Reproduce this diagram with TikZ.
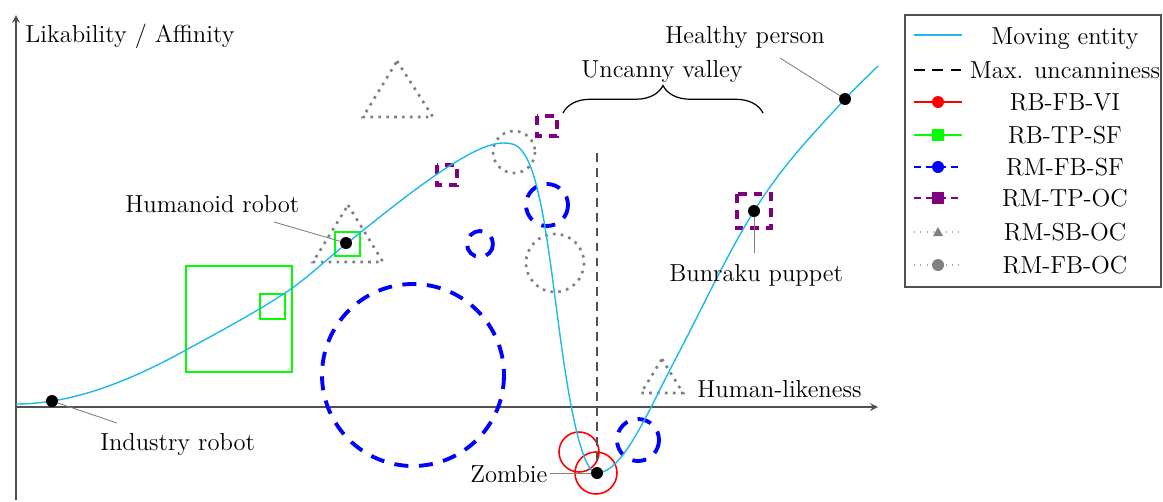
\documentclass[tikz,border=0pt]{standalone}
\usepackage{fontspec}
\usetikzlibrary{arrows, decorations.pathreplacing}
\definecolor{curvecol}{RGB}{30,185,235}
\definecolor{axiscol}{RGB}{80,80,80}
\definecolor{plum}{RGB}{128,0,128}
\tikzstyle{lbl} = [inner sep=0pt, anchor=base west, font=\fontsize{14}{17}\selectfont]
\tikzstyle{legtext} = [inner sep=0pt, anchor=base, font=\fontsize{14}{17}\selectfont]
\tikzstyle{dot} = [circle, fill=black, inner sep=0pt, minimum size=0.24cm]
\tikzstyle{pinline} = [gray, line width=0.5pt]
\tikzstyle{axisline} = [axiscol, line width=1pt, ->, >=stealth]
\tikzstyle{entity} = [curvecol, line width=0.8pt]
\tikzstyle{maxunc} = [axiscol, line width=0.7pt, dash pattern=on 5pt off 3.5pt]
\tikzstyle{rbfbvi} = [red, line width=0.9pt]
\tikzstyle{rbtpsf} = [green, line width=1.1pt]
\tikzstyle{rmfbsf} = [blue, line width=2.2pt, dash pattern=on 8pt off 6pt]
\tikzstyle{rmtpoc} = [plum, line width=1.9pt, dash pattern=on 5pt off 4pt]
\tikzstyle{rmoc} = [gray, line width=1.5pt, dash pattern=on 1.5pt off 3pt]

\begin{document}
\begin{tikzpicture}[x=0.02cm, y=-0.02cm]
    \useasboundingbox (0,0) rectangle (1163,501);

    % axes
    \draw [axisline] (16,500) -- (16,15);
    \draw [axisline] (16,407) -- (878,407);
    \node (affinity) [lbl] at (25,42) {Likability / Affinity};
    \node (likeness) [lbl] at (697,397) {Human-likeness};

    % studies
    \draw [rbtpsf] (186,266) rectangle (292,372);
    \draw [rbtpsf] (260,294) rectangle (285,319);
    \draw [rbtpsf] (335,232) rectangle (360,256);
    \draw [rbfbvi] (579,452) circle [radius=20];
    \draw [rbfbvi] (596,473) circle [radius=21];
    \draw [rmfbsf] (413,375) circle [radius=91];
    \draw [rmfbsf] (480,244) circle [radius=13];
    \draw [rmfbsf] (547,205) circle [radius=21];
    \draw [rmfbsf] (638,440) circle [radius=21];
    \draw [rmtpoc] (437,165) rectangle (457,185);
    \draw [rmtpoc] (537,116) rectangle (557,136);
    \draw [rmtpoc] (737,194) rectangle (771,228);
    \draw [rmoc] (397,61) -- (433,117) -- (363,117) -- cycle;
    \draw [rmoc] (348,205) -- (383,262) -- (313,262) -- cycle;
    \draw [rmoc] (662,359) -- (683,393) -- (641,393) -- cycle;
    \draw [rmoc] (514,152) circle [radius=21];
    \draw [rmoc] (555,263) circle [radius=29];

    % uncanny valley
    \draw [maxunc] (597,153) -- (597,470);
    \draw [decorate, decoration={brace, amplitude=0.55cm}, line width=0.7pt] (563,113) -- (763,113);
    \node (valley) [lbl] at (581,77) {Uncanny valley};

    % moving entity
    \draw [entity] (16,404) .. controls (72.7,404) and (129.3,381.2) .. (186,350)
        .. controls (219,331.9) and (252,314.5) .. (285,293)
        .. controls (305.3,279.8) and (325.7,260.2) .. (346,244)
        .. controls (398.3,202.2) and (470,143) .. (503,143)
        .. controls (517,143) and (531,143) .. (545,227)
        .. controls (551.7,267) and (558.3,326.7) .. (565,370)
        .. controls (575.7,439.3) and (586.3,473) .. (597,473)
        .. controls (623,473) and (649,409.4) .. (675,360)
        .. controls (701.3,310) and (727.7,253.1) .. (754,211)
        .. controls (784.3,162.5) and (814.7,132.3) .. (845,99)
        .. controls (856,86.9) and (867,77) .. (878,66);

    \node (irdot) [dot] at (52,401) {};
    \node (hrdot) [dot] at (346,243) {};
    \node (zbdot) [dot] at (597,473) {};
    \node (bpdot) [dot] at (754,211) {};
    \node (hpdot) [dot] at (845,99) {};

    \node (industry) [lbl] at (100,450) {Industry robot};
    \node (humanoid) [lbl] at (125,212) {Humanoid robot};
    \node (zombie) [lbl] at (470,482) {Zombie};
    \node (bunraku) [lbl] at (669,281) {Bunraku puppet};
    \node (healthy) [lbl] at (665,43) {Healthy person};

    \coordinate (irpin) at (117,423);
    \coordinate (hrpin) at (274,222);
    \coordinate (zbpin) at (550,473);
    \coordinate (bppin) at (754,253);
    \coordinate (hppin) at (780,58);
    \draw [pinline] (irpin) -- (irdot);
    \draw [pinline] (hrpin) -- (hrdot);
    \draw [pinline] (zbpin) -- (zbdot);
    \draw [pinline] (bppin) -- (bpdot);
    \draw [pinline] (hppin) -- (hpdot);

    % legend
    \draw [axiscol, line width=0.8pt] (905,15) rectangle (1161,287);
    \draw [entity] (914,35) -- (962,35);
    \draw [black, line width=0.7pt, dash pattern=on 6pt off 4.5pt] (914,70) -- (962,70);
    \draw [red, line width=0.6pt] (914,102) -- (962,102);
    \fill [red] (938,102) circle [radius=6];
    \draw [green, line width=0.6pt] (914,135) -- (962,135);
    \fill [green] (932,129) rectangle (944,141);
    \draw [blue, line width=0.6pt, dash pattern=on 4pt off 3pt] (914,167) -- (962,167);
    \fill [blue] (938,167) circle [radius=6];
    \draw [plum, line width=0.6pt, dash pattern=on 4pt off 3pt] (914,198) -- (962,198);
    \fill [plum] (932,192) rectangle (944,204);
    \draw [gray!70, line width=0.6pt, dash pattern=on 0.6pt off 3pt] (914,232) -- (962,232);
    \fill [gray] (938,227) -- (943,236) -- (933,236) -- cycle;
    \draw [gray!70, line width=0.6pt, dash pattern=on 0.6pt off 3pt] (914,265) -- (962,265);
    \fill [gray] (938,265) circle [radius=6];

    \node (leg1) [legtext] at (1065,44) {Moving entity};
    \node (leg2) [legtext] at (1065,78) {Max. uncanniness};
    \node (leg3) [legtext] at (1065,110) {RB-FB-VI};
    \node (leg4) [legtext] at (1065,143) {RB-TP-SF};
    \node (leg5) [legtext] at (1065,175) {RM-FB-SF};
    \node (leg6) [legtext] at (1065,206) {RM-TP-OC};
    \node (leg7) [legtext] at (1065,240) {RM-SB-OC};
    \node (leg8) [legtext] at (1065,273) {RM-FB-OC};
\end{tikzpicture}
\end{document}
